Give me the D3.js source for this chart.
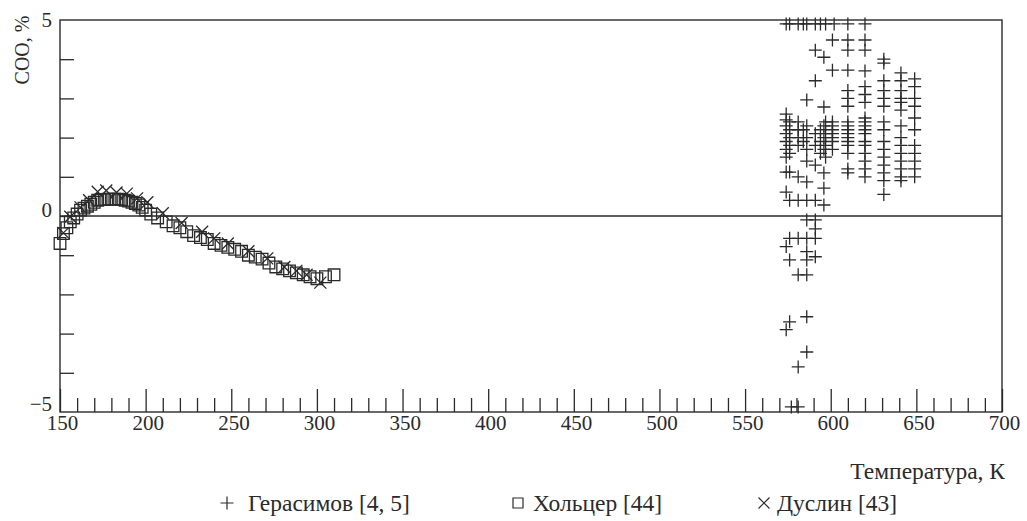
<!DOCTYPE html>
<html>
<head>
<meta charset="utf-8">
<script src="https://cdn.jsdelivr.net/npm/d3@7"></script>
<style>
  body { margin: 0; background: #fff; }
  svg { display: block; }
  svg text { font-family: "Liberation Serif", "DejaVu Serif", "Times New Roman", serif !important; }
</style>
</head>
<body>
<svg id="chart"></svg>
<script>
// *** Data: [temperature K, COO %] ***
var holzer = [
    [150, -0.7], [152, -0.45], [154, -0.3], [156, -0.15], [158, -0.05], [160, 0.05],
    [162, 0.15], [164, 0.2], [166, 0.25], [168, 0.3], [170, 0.35], [172, 0.4],
    [174, 0.42], [176, 0.42], [178, 0.43], [180, 0.43], [182, 0.43], [184, 0.43],
    [186, 0.42], [188, 0.4], [190, 0.38], [192, 0.35], [194, 0.32], [196, 0.28],
    [198, 0.22], [200, 0.15], [203, 0.05], [207, -0.05], [212, -0.15], [216, -0.25],
    [220, -0.3], [224, -0.4], [228, -0.5], [232, -0.55], [236, -0.6], [240, -0.7],
    [244, -0.75], [248, -0.8], [252, -0.85], [256, -0.9], [260, -1.0], [264, -1.05],
    [268, -1.1], [272, -1.2], [276, -1.3], [280, -1.35], [284, -1.4], [288, -1.45],
    [292, -1.5], [296, -1.55], [300, -1.6], [305, -1.55], [310, -1.5]
];

var duslin = [
    [152, -0.43], [156, -0.02], [162, 0.22], [167, 0.4], [172, 0.62], [177, 0.65],
    [183, 0.6], [189, 0.57], [195, 0.45], [201, 0.35], [210, 0.07], [221, -0.18],
    [233, -0.4], [240, -0.57], [248, -0.7], [260, -0.9], [271, -1.08], [281, -1.3],
    [288, -1.4], [294, -1.5], [302, -1.7]
];

var gerasimov = [
    [574, 4.9], [574, 2.6], [574, 2.45], [574, 2.3], [574, 2.1], [574, 1.9], [574, 1.7],
    [574, 1.5], [574, 1.12], [574, 0.61], [574, -0.78], [574, -2.9],
    [576, 4.9], [576, 2.4], [576, 2.2], [576, 2.0], [576, 1.8], [576, 1.6], [576, 1.12],
    [576, 0.4], [576, -0.57], [576, -1.12], [576, -2.7], [577, -4.87],
    [581, 4.9], [581, 2.4], [581, 2.2], [581, 2.0], [581, 1.8], [581, 1.0], [581, 0.4],
    [581, -0.57], [581, -1.5], [581, -3.85], [581, -4.87],
    [584, 4.9], [584, 2.2], [584, 1.9],
    [586, 4.9], [586, 2.96], [586, 2.3], [586, 2.0], [586, 1.7], [586, 1.4], [586, 0.87],
    [586, 0.4], [586, -0.1], [586, -0.57], [586, -0.91], [586, -1.12], [586, -1.5],
    [586, -2.57], [586, -3.47],
    [591, 4.9], [591, 4.23], [591, 3.45], [591, 2.1], [591, 1.8], [591, 1.3], [591, 0.4],
    [591, -0.1], [591, -0.33], [591, -0.57], [591, -1.04],
    [594, 4.9], [594, 2.2], [594, 1.9], [594, 1.6],
    [596, 4.05], [596, 2.78], [596, 2.3], [596, 2.0], [596, 1.7], [596, 1.1], [596, 0.71], [596, 0.28],
    [597, 4.9], [597, 2.4], [597, 2.1], [597, 1.8], [597, 1.5],
    [601, 4.49], [601, 3.72], [601, 2.4], [601, 2.3], [601, 2.2], [601, 2.1], [601, 2.0],
    [601, 1.9], [601, 1.7], [602, 4.9],
    [610, 4.9], [610, 4.49], [610, 4.23], [610, 3.72], [610, 3.2], [610, 3.0], [610, 2.8],
    [610, 2.4], [610, 2.3], [610, 2.2], [610, 2.1], [610, 2.0], [610, 1.9], [610, 1.8],
    [610, 1.6], [610, 1.2], [610, 1.1],
    [620, 4.9], [620, 4.49], [620, 4.23], [620, 3.7], [620, 3.3], [620, 3.1], [620, 2.9],
    [620, 2.5], [620, 2.4], [620, 2.3], [620, 2.2], [620, 2.1], [620, 1.9], [620, 1.8],
    [620, 1.6], [620, 1.4], [620, 1.2], [620, 1.0],
    [631, 4.0], [631, 3.9], [631, 3.45], [631, 3.2], [631, 3.0], [631, 2.8], [631, 2.4],
    [631, 2.2], [631, 1.9], [631, 1.7], [631, 1.5], [631, 1.3], [631, 1.1], [631, 0.9], [631, 0.55],
    [641, 3.65], [641, 3.45], [641, 3.2], [641, 3.0], [641, 2.9], [641, 2.7], [641, 2.3],
    [641, 2.0], [641, 1.8], [641, 1.6], [641, 1.4], [641, 1.2], [641, 1.0], [641, 0.9],
    [649, 3.5], [649, 3.3], [649, 3.0], [649, 2.8], [649, 2.5], [649, 2.2], [649, 1.8],
    [649, 1.6], [649, 1.4], [649, 1.2], [649, 1.0]
];

var xMajorTicks = [150, 200, 250, 300, 350, 400, 450, 500, 550, 600, 650, 700];
var yLabelTicks = [-5, 0, 5];
var legendLabels = ["Герасимов [4, 5]", "Хольцер [44]", "Дуслин [43]"];

// *** Sizes ***
var svgWidth = 1027, svgHeight = 521;
var ink = "#2a2a2a";
var serif = "'Liberation Serif', 'DejaVu Serif', serif";

var svg = d3.select("#chart")
    .attr("width", svgWidth)
    .attr("height", svgHeight);

var x = d3.scaleLinear().domain([150, 700]).range([60, 1002]);
var y = d3.scaleLinear().domain([-5, 5]).range([412, 20]);

// *** Marker shapes ***
function plusPath(h) {
    return "M" + (-h) + ",0H" + h + "M0," + (-h) + "V" + h;
}
function crossPath(h) {
    return "M" + (-h) + "," + (-h) + "L" + h + "," + h + "M" + (-h) + "," + h + "L" + h + "," + (-h);
}
function squarePath(h) {
    return "M" + (-h) + "," + (-h) + "H" + h + "V" + h + "H" + (-h) + "Z";
}

// *** Minor ticks ***
var xMinor = d3.range(160, 700, 10).filter(function (d) { return d % 50 !== 0; });
svg.append("g")
    .attr("transform", "translate(0," + y(-5) + ")")
    .call(d3.axisBottom(x).tickValues(xMinor).tickSize(-14).tickFormat(""))
    .call(function (g) { g.select(".domain").remove(); });

// major ticks + labels
svg.append("g")
    .attr("transform", "translate(0," + y(-5) + ")")
    .call(d3.axisBottom(x).tickValues(xMajorTicks).tickSize(-23).tickPadding(3))
    .call(function (g) {
        g.select(".domain").remove();
        g.attr("font-family", serif).attr("font-size", 21);
        g.selectAll("text").attr("fill", ink).attr("dx", "0.1em");
    });

svg.append("g")
    .attr("transform", "translate(" + x(150) + ",0)")
    .call(d3.axisLeft(y).tickValues(d3.range(-4, 5)).tickSize(-14).tickFormat(""))
    .call(function (g) { g.select(".domain").remove(); });

svg.append("g")
    .attr("transform", "translate(" + x(150) + ",0)")
    .call(d3.axisLeft(y).tickValues(yLabelTicks).tickSize(0).tickPadding(8))
    .call(function (g) {
        g.select(".domain").remove();
        g.attr("font-family", serif).attr("font-size", 21);
        g.selectAll("text").attr("fill", ink)
            .attr("dy", function (d) { return d === 5 ? "0.33em" : (d === 0 ? "0em" : "-0.05em"); });
    });

svg.selectAll(".tick line").attr("stroke", ink).attr("stroke-width", 1.3);

// frame
svg.append("rect")
    .attr("x", x(150)).attr("y", y(5))
    .attr("width", x(700) - x(150)).attr("height", y(-5) - y(5))
    .attr("fill", "none").attr("stroke", ink).attr("stroke-width", 1.4);

// zero line
svg.append("line")
    .attr("x1", x(150)).attr("x2", x(700))
    .attr("y1", y(0)).attr("y2", y(0))
    .attr("stroke", ink).attr("stroke-width", 1.3);

// *** Points ***
function drawSeries(data, pathStr) {
    svg.append("g").selectAll("path")
        .data(data)
        .enter()
        .append("path")
        .attr("d", pathStr)
        .attr("transform", function (d) { return "translate(" + x(d[0]) + "," + y(d[1]) + ")"; })
        .attr("fill", "none")
        .attr("stroke", ink)
        .attr("stroke-width", 1.3);
}
drawSeries(holzer, squarePath(5.8));
drawSeries(duslin, crossPath(6));
drawSeries(gerasimov, plusPath(6.5));

// *** Axis titles ***
svg.append("text")
    .attr("transform", "translate(29,50) rotate(-90)")
    .attr("text-anchor", "middle")
    .attr("font-family", serif)
    .attr("font-size", 20)
    .attr("fill", ink)
    .text("COO, %");

svg.append("text")
    .attr("x", 1005).attr("y", 479)
    .attr("text-anchor", "end")
    .attr("font-family", serif)
    .attr("font-size", 23.5)
    .attr("fill", ink)
    .text("Температура, К");

// *** Legend ***
var legendItems = [
    { sym: plusPath(6.5), sx: 227, tx: 248 },
    { sym: squarePath(5), sx: 518, tx: 533 },
    { sym: crossPath(5.5), sx: 764, tx: 777 }
];
legendItems.forEach(function (it, i) {
    svg.append("path")
        .attr("d", it.sym)
        .attr("transform", "translate(" + it.sx + ",503)")
        .attr("fill", "none").attr("stroke", ink).attr("stroke-width", 1.2);
    svg.append("text")
        .attr("x", it.tx).attr("y", 511)
        .attr("font-family", serif)
        .attr("font-size", 23.5)
        .attr("fill", ink)
        .text(legendLabels[i]);
});
</script>
</body>
</html>
